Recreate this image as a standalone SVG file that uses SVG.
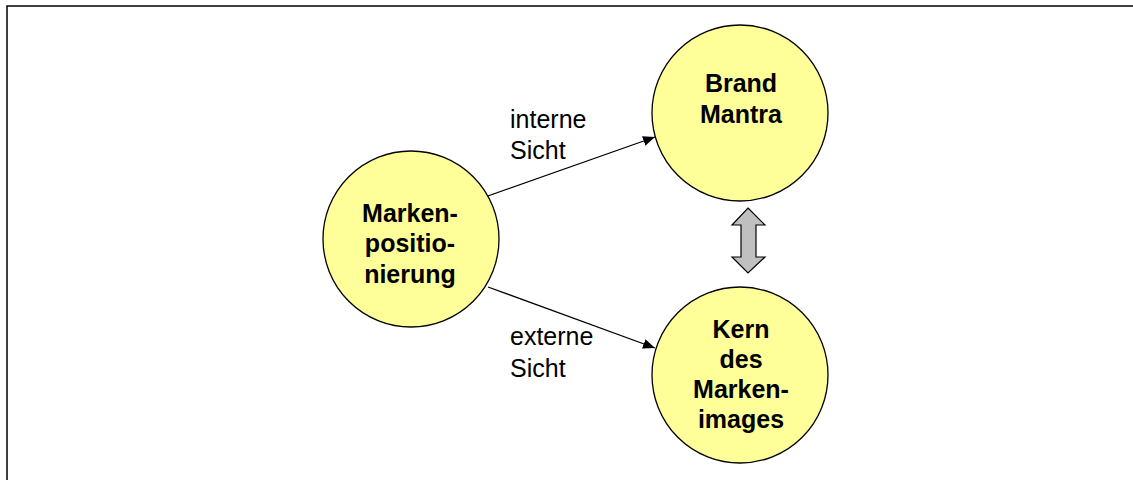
<svg xmlns="http://www.w3.org/2000/svg" width="1133" height="480" viewBox="0 0 1133 480">
  <style>
    .node { fill: #FFFF99; stroke: #000; stroke-width: 1.3; }
    .title { font-family: "Liberation Sans", Arial, sans-serif; font-weight: bold; font-size: 25px; text-anchor: middle; fill: #000; }
    .label { font-family: "Liberation Sans", Arial, sans-serif; font-size: 25px; fill: #000; }
    .edge { stroke: #000; stroke-width: 1.3; fill: none; marker-end: url(#head); }
  </style>
  <defs>
    <marker id="head" viewBox="0 0 12 10" refX="12" refY="5" markerWidth="12" markerHeight="10" markerUnits="userSpaceOnUse" orient="auto">
      <path d="M0,0 L12,5 L0,10 Z" fill="#000"/>
    </marker>
  </defs>
  <rect width="1133" height="480" fill="#fff"/>
  <!-- frame: top and left edge only -->
  <path d="M7,480 V6 H1133" fill="none" stroke="#000" stroke-width="1.5"/>

  <g id="connectors">
    <line class="edge" x1="485" y1="197" x2="655" y2="137"/>
    <line class="edge" x1="488" y1="287" x2="655" y2="348"/>
    <text class="label" x="510" y="128">interne</text>
    <text class="label" x="510" y="159">Sicht</text>
    <text class="label" x="510" y="345">externe</text>
    <text class="label" x="510" y="377">Sicht</text>
    <polygon points="748,208 765,225 756,225 756,257 765,257 748,273 732,257 741,257 741,225 732,225" fill="#C0C0C0" stroke="#000" stroke-width="1.2"/>
  </g>

  <g id="markenpositionierung">
    <circle class="node" cx="411" cy="239" r="88"/>
    <text class="title" x="410" y="222">Marken-</text>
    <text class="title" x="410" y="252">positio-</text>
    <text class="title" x="410" y="283">nierung</text>
  </g>

  <g id="brand-mantra">
    <circle class="node" cx="740" cy="113" r="88"/>
    <text class="title" x="741" y="92">Brand</text>
    <text class="title" x="741" y="123">Mantra</text>
  </g>

  <g id="kern-des-markenimages">
    <circle class="node" cx="740" cy="375" r="88"/>
    <text class="title" x="741" y="338">Kern</text>
    <text class="title" x="741" y="368">des</text>
    <text class="title" x="741" y="398">Marken-</text>
    <text class="title" x="741" y="428">images</text>
  </g>
</svg>
